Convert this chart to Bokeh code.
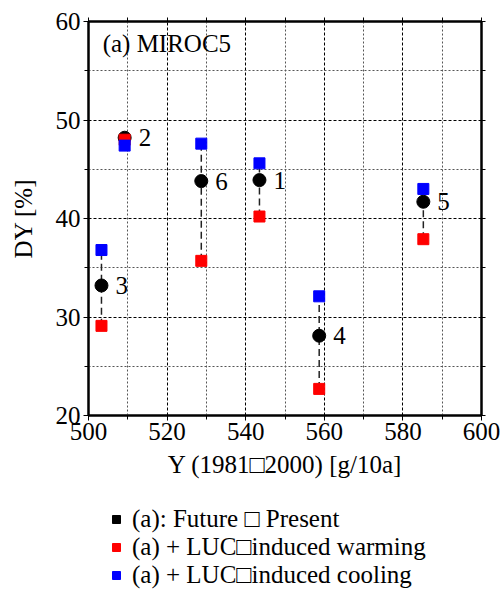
from bokeh.plotting import figure
from bokeh.models import (ColumnDataSource, FixedTicker, LinearAxis, Legend,
                          LegendItem, Label, Range1d)
from bokeh.layouts import column
from bokeh.embed import file_html
from bokeh.resources import INLINE

# ---- data ----
sites = ["1", "2", "3", "4", "5", "6"]
yield_1981_2000 = [543.5, 509.2, 503.3, 558.7, 585.2, 528.7]
dy_future_present = [43.9, 48.2, 33.2, 28.1, 41.7, 43.8]
dy_luc_warming = [40.2, 48.0, 29.1, 22.7, 37.9, 35.7]
dy_luc_cooling = [45.6, 47.4, 36.8, 32.1, 43.0, 47.6]

x_major = [500, 520, 540, 560, 580, 600]
x_minor = [510, 530, 550, 570, 590]
y_major = [20, 30, 40, 50, 60]
y_minor = [25, 35, 45, 55]

title_text = "(a) MIROC5"
xlabel = "Y (1981\u25a12000) [g/10a]"
ylabel = "DY [%]"
legend_labels = ["(a): Future \u25a1 Present",
                 "(a) + LUC\u25a1induced warming",
                 "(a) + LUC\u25a1induced cooling"]
legend_colors = ["black", "red", "blue"]

FONT = "Liberation Serif"
FS = "25px"

src = ColumnDataSource(dict(x=yield_1981_2000, fp=dy_future_present,
                            w=dy_luc_warming, c=dy_luc_cooling, lab=sites))

p = figure(width=504, height=490, output_backend="svg", toolbar_location=None,
           x_range=Range1d(500, 600), y_range=Range1d(20, 60),
           min_border_left=88, min_border_right=23, min_border_top=21,
           min_border_bottom=75, x_axis_location=None, y_axis_location=None)
p.background_fill_color = "white"
p.border_fill_color = "white"
p.outline_line_color = "black"
p.outline_line_width = 2

xt = FixedTicker(ticks=x_major, minor_ticks=x_minor)
yt = FixedTicker(ticks=y_major, minor_ticks=y_minor)
# unlabelled tick marks for the top and right frame edges
xt_plain = FixedTicker(ticks=[], minor_ticks=x_major + x_minor)
yt_plain = FixedTicker(ticks=[], minor_ticks=y_major + y_minor)

def style_axis(ax):
    ax.axis_line_color = "black"
    ax.axis_line_width = 2
    ax.major_tick_line_color = "black"
    ax.minor_tick_line_color = "black"
    ax.major_tick_in = 0
    ax.major_tick_out = 5
    ax.minor_tick_in = 0
    ax.minor_tick_out = 4
    ax.major_label_text_font = FONT
    ax.major_label_text_color = "black"
    ax.major_label_text_font_size = FS
    ax.axis_label_text_font = FONT
    ax.axis_label_text_font_style = "normal"
    ax.axis_label_text_font_size = FS
    ax.axis_label_text_color = "black"

xb = LinearAxis(ticker=xt, axis_label=xlabel)
style_axis(xb)
xb.major_label_standoff = 2
xb.axis_label_standoff = 8
p.add_layout(xb, "below")

yl = LinearAxis(ticker=yt, axis_label=ylabel)
style_axis(yl)
yl.major_label_standoff = 3
yl.axis_label_standoff = 16
p.add_layout(yl, "left")

xa = LinearAxis(ticker=xt_plain)
style_axis(xa)
p.add_layout(xa, "above")
yr = LinearAxis(ticker=yt_plain)
style_axis(yr)
p.add_layout(yr, "right")

p.xgrid.ticker = xt
p.ygrid.ticker = yt
for g in (p.xgrid[0], p.ygrid[0]):
    g.grid_line_color = "black"
    g.grid_line_dash = "3 2"
    g.grid_line_width = 1
    g.minor_grid_line_color = "#555555"
    g.minor_grid_line_dash = "2 2"
    g.minor_grid_line_width = 1

# dashed connectors
p.segment(x0="x", y0="w", x1="x", y1="c", source=src, line_color="#222222",
          line_width=1.5, line_dash="7 4")

p.scatter(x="x", y="fp", source=src, marker="circle", size=13,
          fill_color="black", line_color="black")
p.scatter(x="x", y="w", source=src, marker="square", size=11,
          fill_color="red", line_color="red")
p.scatter(x="x", y="c", source=src, marker="square", size=11,
          fill_color="blue", line_color="blue")

p.text(x="x", y="fp", text="lab", source=src, x_offset=14,
       text_baseline="middle", text_align="left", text_font=FONT,
       text_font_size=FS, text_color="black")

p.add_layout(Label(x=503.6, y=57.8, text=title_text, text_font=FONT,
                   text_font_size=FS, text_baseline="middle",
                   text_color="black"))

# ---- legend panel below the plot ----
q = figure(width=504, height=101, output_backend="svg", toolbar_location=None,
           x_range=Range1d(0, 1), y_range=Range1d(0, 1),
           min_border=0, x_axis_location=None, y_axis_location=None)
q.outline_line_color = None
q.xgrid.visible = False
q.ygrid.visible = False
q.background_fill_color = "white"
q.border_fill_color = "white"

nan = float("nan")
items = []
for lab, col in zip(legend_labels, legend_colors):
    s = ColumnDataSource(dict(x=[nan], y=[nan]))
    r = q.scatter(x="x", y="y", source=s, marker="square", size=8,
                  fill_color=col, line_color=col)
    items.append(LegendItem(label=lab, renderers=[r]))

legend = Legend(items=items, location=(18, 2), orientation="vertical")
legend.border_line_color = None
legend.background_fill_alpha = 0
legend.label_text_font = FONT
legend.label_text_font_size = FS
legend.label_text_color = "black"
legend.glyph_width = 20
legend.glyph_height = 28
legend.label_standoff = 6
legend.label_height = 28
legend.spacing = 0
legend.padding = 0
legend.margin = 0
q.add_layout(legend, "center")

open("out.html", "w").write(file_html(column(p, q, spacing=0), INLINE))
